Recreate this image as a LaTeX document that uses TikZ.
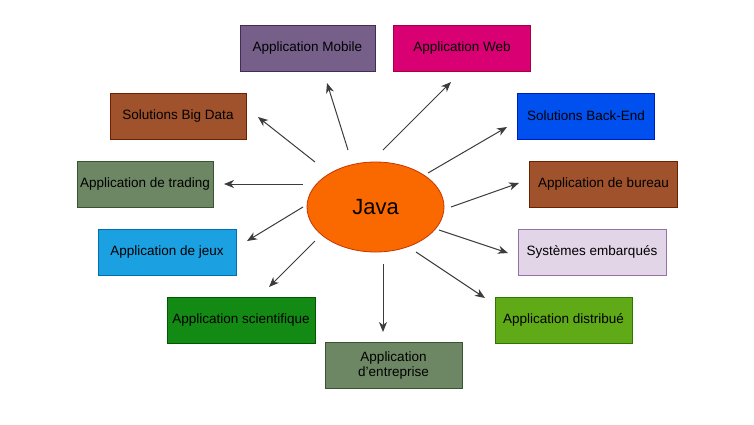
\documentclass[tikz,border=0pt]{standalone}
\usepackage{fontspec}
\setmainfont{Liberation Sans}
\usetikzlibrary{arrows.meta,shapes.geometric}
\definecolor{arrowc}{HTML}{3C3C3C}
\definecolor{purplef}{HTML}{76608A}\definecolor{purpled}{HTML}{432D57}
\definecolor{pinkf}{HTML}{D80073}\definecolor{pinkd}{HTML}{A50040}
\definecolor{brownf}{HTML}{A0522D}\definecolor{brownd}{HTML}{6D1F00}
\definecolor{bluef}{HTML}{0050EF}\definecolor{blued}{HTML}{001DBC}
\definecolor{olivef}{HTML}{6D8764}\definecolor{olived}{HTML}{3A5431}
\definecolor{cyanf}{HTML}{1BA1E2}\definecolor{cyand}{HTML}{006EAF}
\definecolor{lilacf}{HTML}{E1D5E7}\definecolor{lilacd}{HTML}{9673A6}
\definecolor{greenf}{HTML}{138A13}\definecolor{greend}{HTML}{005700}
\definecolor{limef}{HTML}{60A917}\definecolor{limed}{HTML}{2D7600}
\definecolor{orangef}{HTML}{FA6800}\definecolor{oranged}{HTML}{C73500}
\tikzset{
  box/.style={draw, line width=0.8pt, minimum height=46pt, inner sep=2pt,
    font=\fontsize{13.5}{15.5}\selectfont, text=black, align=center},
  arr/.style={draw=arrowc, line width=1pt,
    -{Stealth[length=10pt,width=8pt,inset=3pt]}}
}
\begin{document}
\begin{tikzpicture}[x=1pt,y=-1pt]
\useasboundingbox (0,0) rectangle (754,424);
\fill[white] (0,0) rectangle (754,424);
\node[ellipse, draw=oranged, fill=orangef, line width=0.8pt, minimum width=137pt, minimum height=90pt,
  inner sep=0pt, font=\fontsize{22}{26}\selectfont] (java) at (375.5,207) {Java};
\node[box, fill=purplef, draw=purpled, minimum width=135pt] (mobile) at (307.5,48) {Application Mobile};
\node[box, fill=pinkf, draw=pinkd, minimum width=137pt] (web) at (462,48) {Application Web};
\node[box, fill=brownf, draw=brownd, minimum width=136pt] (bigdata) at (178,116) {Solutions Big Data};
\node[box, fill=bluef, draw=blued, minimum width=137pt] (backend) at (586,116) {Solutions Back-End};
\node[box, fill=olivef, draw=olived, minimum width=136pt] (trading) at (145,184.5) {Application de trading};
\node[box, fill=brownf, draw=brownd, minimum width=148pt] (bureau) at (603.5,184.5) {Application de bureau};
\node[box, fill=cyanf, draw=cyand, minimum width=138pt] (jeux) at (167,252) {Application de jeux};
\node[box, fill=lilacf, draw=lilacd, minimum width=148pt] (systemes) at (592,252) {Systèmes embarqués};
\node[box, fill=greenf, draw=greend, minimum width=148pt] (scient) at (241,320) {Application scientifique};
\node[box, fill=limef, draw=limed, minimum width=137pt] (distrib) at (563.5,320) {Application distribué};
\node[box, fill=olivef, draw=olived, minimum width=137pt] (entre) at (393.5,365.5) {Application\\[-1pt]d\symbol{39}entreprise};
% arrow end points
\coordinate (sMobile) at (348,150);   \coordinate (tMobile) at (327,83);
\coordinate (sWeb) at (383,150);      \coordinate (tWeb) at (451,82);
\coordinate (sBig) at (315,162);      \coordinate (tBig) at (258,117);
\coordinate (sBack) at (428,173);     \coordinate (tBack) at (507,127);
\coordinate (sTrad) at (303,184);     \coordinate (tTrad) at (224,184);
\coordinate (sBur) at (451,207);      \coordinate (tBur) at (519,183);
\coordinate (sJeux) at (303,207);     \coordinate (tJeux) at (247,241);
\coordinate (sSys) at (439,230);      \coordinate (tSys) at (508,253);
\coordinate (sSci) at (315,241);      \coordinate (tSci) at (269,287);
\coordinate (sDis) at (416,252);      \coordinate (tDis) at (485,298);
\coordinate (sEnt) at (383,264);      \coordinate (tEnt) at (383,332);
\draw[arr] (sMobile) -- (tMobile);
\draw[arr] (sWeb) -- (tWeb);
\draw[arr] (sBig) -- (tBig);
\draw[arr] (sBack) -- (tBack);
\draw[arr] (sTrad) -- (tTrad);
\draw[arr] (sBur) -- (tBur);
\draw[arr] (sJeux) -- (tJeux);
\draw[arr] (sSys) -- (tSys);
\draw[arr] (sSci) -- (tSci);
\draw[arr] (sDis) -- (tDis);
\draw[arr] (sEnt) -- (tEnt);
\end{tikzpicture}
\end{document}
